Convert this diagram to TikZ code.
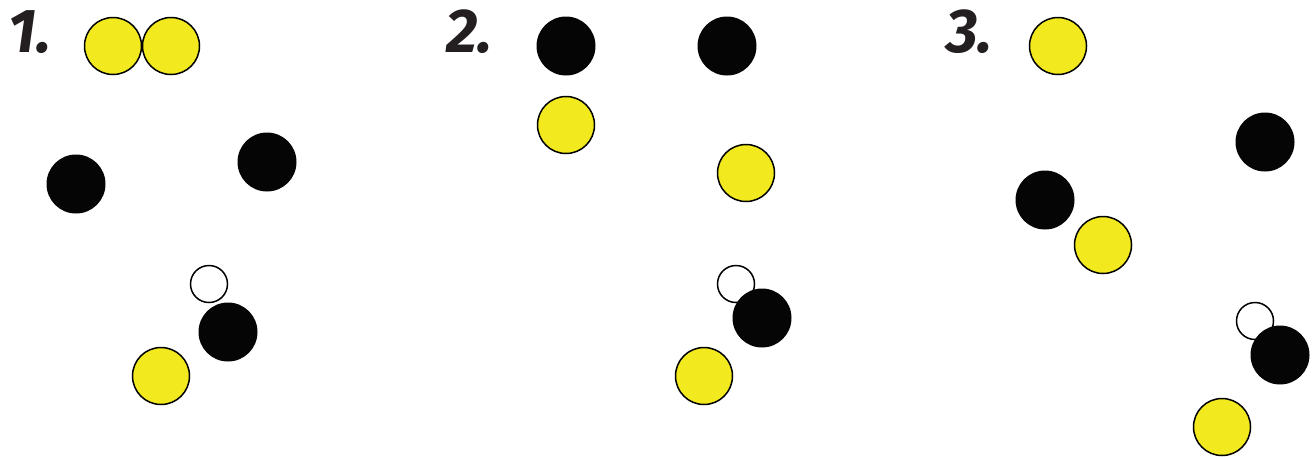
\documentclass[tikz,border=0pt]{standalone}
\usepackage{fontspec}
\newfontfamily\labelfont{Fira Sans}
\definecolor{ballyellow}{HTML}{F2EA1E}
\definecolor{ballblack}{HTML}{050505}
\definecolor{labelgray}{HTML}{231F20}
\begin{document}
\begin{tikzpicture}[x=1pt,y=-1pt,
  yball/.style={circle,draw=black,line width=1.5pt,fill=ballyellow,minimum size=57pt,inner sep=0pt},
  bball/.style={circle,fill=ballblack,minimum size=59pt,inner sep=0pt},
  wball/.style={circle,draw=black,line width=1.5pt,fill=white,minimum size=37pt,inner sep=0pt},
  panellabel/.style={anchor=base west,inner sep=0pt,text=labelgray,font=\labelfont\bfseries\itshape\fontsize{62}{62}\selectfont}]
\useasboundingbox (0,0) rectangle (1314,456);
% panel 1
\node[panellabel] (l1) at (8,52) {1.};
\node[yball] (p1y1) at (113,46) {};
\node[yball] (p1y2) at (171,46) {};
\node[bball] (p1b1) at (76,184) {};
\node[bball] (p1b2) at (267,162) {};
\node[wball] (p1w) at (209,284) {};
\node[bball] (p1b3) at (228,332) {};
\node[yball] (p1y3) at (161,376) {};
% panel 2
\node[panellabel] (l2) at (446,52) {2.};
\node[bball] (p2b1) at (566,46) {};
\node[bball] (p2b2) at (727,46) {};
\node[yball] (p2y1) at (566,125) {};
\node[yball] (p2y2) at (746,173) {};
\node[wball] (p2w) at (736,284) {};
\node[bball] (p2b3) at (762,318) {};
\node[yball] (p2y3) at (704,376) {};
% panel 3
\node[panellabel] (l3) at (946,52) {3.};
\node[yball] (p3y1) at (1058,46) {};
\node[bball] (p3b1) at (1265,142) {};
\node[bball] (p3b2) at (1045,200) {};
\node[yball] (p3y2) at (1103,245) {};
\node[wball] (p3w) at (1255,321) {};
\node[bball] (p3b3) at (1280,355) {};
\node[yball] (p3y3) at (1222,427) {};
\end{tikzpicture}
\end{document}
